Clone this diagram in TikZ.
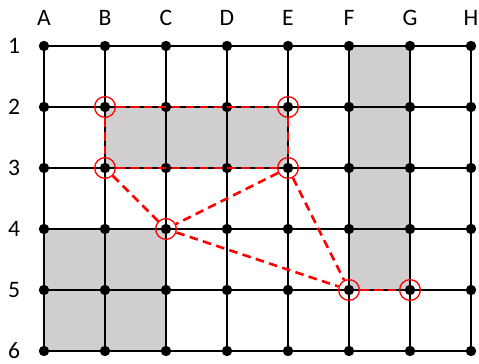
\documentclass[tikz,border=0pt]{standalone}
\usepackage{fontspec}
\setmainfont{Carlito}
\usepackage{xcolor}
\usetikzlibrary{positioning}
\definecolor{Shade}{HTML}{D0CECE}
\definecolor{Mark}{HTML}{FF0000}

\begin{document}
\begin{tikzpicture}[
  every node/.style={font=\fontsize{11}{13}\selectfont,inner sep=0pt},
  gridline/.style={draw=black,line width=0.7pt},
  vertex/.style={circle,fill=black,minimum size=0.17cm},
  ring/.style={circle,draw=Mark,line width=0.6pt,minimum size=0.34cm},
  link/.style={draw=Mark,line width=1.2pt,dash pattern=on 4pt off 2.5pt}]
\useasboundingbox (0,0) rectangle (7.852,5.967);

% Grid points: columns A..H, rows 1..6 counted from the top.
\foreach \c [count=\i] in {A,B,C,D,E,F,G,H}
  \foreach \r in {1,...,6}
    \coordinate (\c\r) at ({0.721+(\i-1)},{5.213-(\r-1)});

\fill[Shade] (B2) rectangle (E3);
\fill[Shade] (F1) rectangle (G5);
\fill[Shade] (A4) rectangle (C6);

\foreach \r in {1,...,6} \draw[gridline] (A\r) -- (H\r);
\foreach \c in {A,B,C,D,E,F,G,H} \draw[gridline] (\c1) -- (\c6);

\foreach \c in {A,B,C,D,E,F,G,H}
  \node (lab\c) at ([yshift=0.46cm]\c1) {\c};
\foreach \r in {1,...,6}
  \node (lab\r) at ([xshift=-0.49cm]A\r) {\r};

\foreach \c in {A,B,C,D,E,F,G,H}
  \foreach \r in {1,...,6}
    \node[vertex] (d\c\r) at (\c\r) {};

\foreach \p in {B2,E2,B3,E3,C4,F5,G5}
  \node[ring] (r\p) at (\p) {};

\foreach \u/\v in {B2/E2,B2/B3,E2/E3,B3/E3,B3/C4,E3/C4,C4/F5,E3/F5,F5/G5}
  \draw[link] (r\u) -- (r\v);
\end{tikzpicture}
\end{document}
